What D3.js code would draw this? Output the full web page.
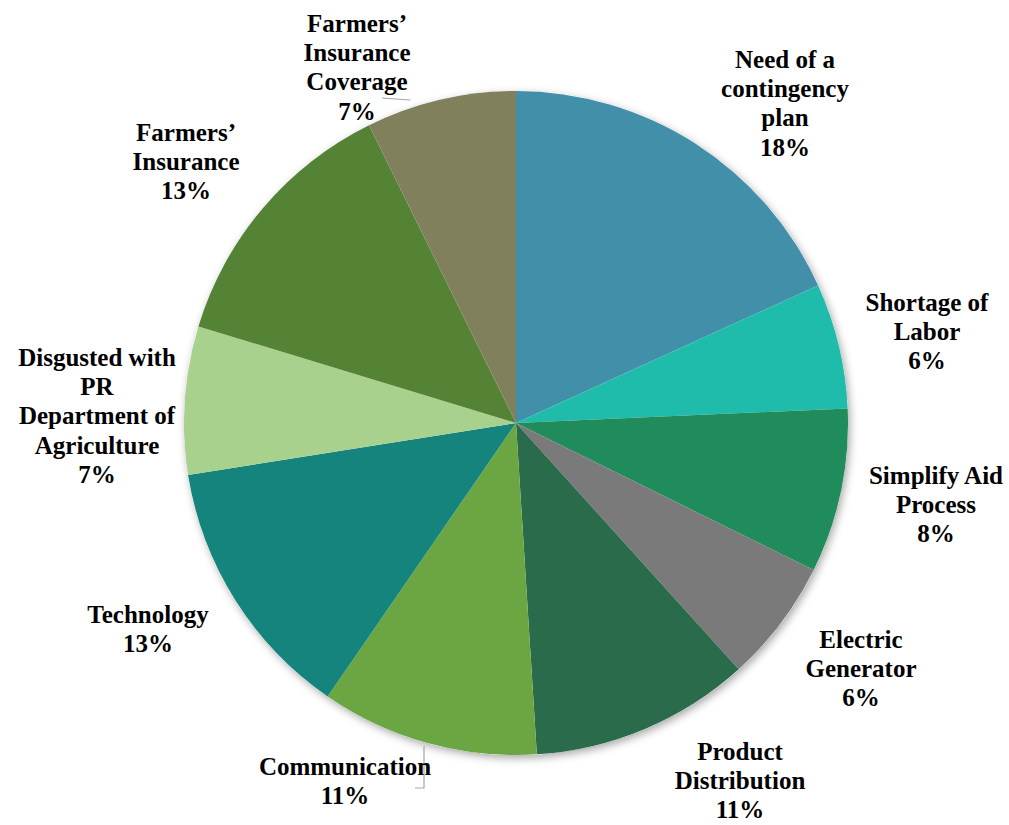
<!DOCTYPE html>
<html>
<head>
<meta charset="utf-8">
<script src="https://cdn.jsdelivr.net/npm/d3@7"></script>
<style>
  body { margin: 0; background: #fff; }
  text { font-family: "Liberation Serif", "Times New Roman", serif; font-weight: bold; font-size: 25px; fill: #000; }
</style>
</head>
<body>
<svg id="chart" width="1009" height="825"></svg>
<script>

// === Data === //

var categories = ['Need of a contingency plan', 'Shortage of Labor', 'Simplify Aid Process',
  'Electric Generator', 'Product Distribution', 'Communication', 'Technology',
  'Disgusted with PR Department of Agriculture', 'Farmers\u2019 Insurance', 'Farmers\u2019 Insurance Coverage'];

// shares, labels show them rounded
var values = [18.2, 6.1, 8.0, 6.0, 10.7, 10.6, 12.9, 7.2, 13.0, 7.3];
var percentLabels = ['18%', '6%', '8%', '6%', '11%', '11%', '13%', '7%', '13%', '7%'];

var labelLines = [
  ['Need of a', 'contingency', 'plan'],
  ['Shortage of', 'Labor'],
  ['Simplify Aid', 'Process'],
  ['Electric', 'Generator'],
  ['Product', 'Distribution'],
  ['Communication'],
  ['Technology'],
  ['Disgusted with', 'PR', 'Department of', 'Agriculture'],
  ['Farmers\u2019', 'Insurance'],
  ['Farmers\u2019', 'Insurance', 'Coverage']
];

var colours = ['#418fa9', '#1fbcac', '#208b5b', '#7a7a7a', '#296b4b',
  '#6ba642', '#14847d', '#a9d18e', '#558335', '#80805c'];


// === Layout === //

var cx = 516, cy = 423, radius = 332;
var lineH = 29.2;

// label block centre (x) and first line (y), placed like the original
var labelPos = [
  [785, 59], [927, 302], [936, 475], [861, 639], [740, 751],
  [345, 766], [148, 614], [97, 357], [186, 132], [357, 23]
];

var svg = d3.select('#chart');

var defs = svg.append('defs');
var filter = defs.append('filter').attr('id', 'shadow')
  .attr('x', '-10%').attr('y', '-10%').attr('width', '120%').attr('height', '120%');
filter.append('feDropShadow')
  .attr('dx', 2).attr('dy', 3).attr('stdDeviation', 4)
  .attr('flood-color', '#000').attr('flood-opacity', 0.35);

var pie = d3.pie().sort(null).value(function(d) { return d; });
var arc = d3.arc().innerRadius(0).outerRadius(radius);

var arcs = pie(values);

var g = svg.append('g').attr('transform', 'translate(' + cx + ',' + cy + ')');

g.append('circle').attr('r', radius).attr('fill', '#fff').attr('filter', 'url(#shadow)');

g.selectAll('path.slice')
  .data(arcs)
  .enter()
  .append('path')
  .attr('class', 'slice')
  .attr('d', arc)
  .attr('fill', function(d, i) { return colours[i]; });


// === Leader lines === //

var leader = svg.append('g').attr('fill', 'none').attr('stroke', '#a6a6a6').attr('stroke-width', 1.2);

// Farmers' Insurance Coverage
var covMid = d3.arc().innerRadius(radius).outerRadius(radius).centroid(arcs[9]);
leader.append('path').attr('d', d3.line()([[382, 98], [cx + covMid[0] - 30, 100]]));

// Communication
leader.append('path').attr('d', d3.line()([[424, 746], [424, 788], [415, 788]]));


// === Labels === //

var labels = svg.append('g').attr('text-anchor', 'middle');

labelLines.forEach(function(lines, i) {
  var t = labels.append('text')
    .attr('x', labelPos[i][0])
    .attr('y', labelPos[i][1])
    .attr('dominant-baseline', 'central');
  lines.concat([percentLabels[i]]).forEach(function(s, j) {
    t.append('tspan')
      .attr('x', labelPos[i][0])
      .attr('y', labelPos[i][1] + j * lineH)
      .text(s);
  });
});

</script>
</body>
</html>
